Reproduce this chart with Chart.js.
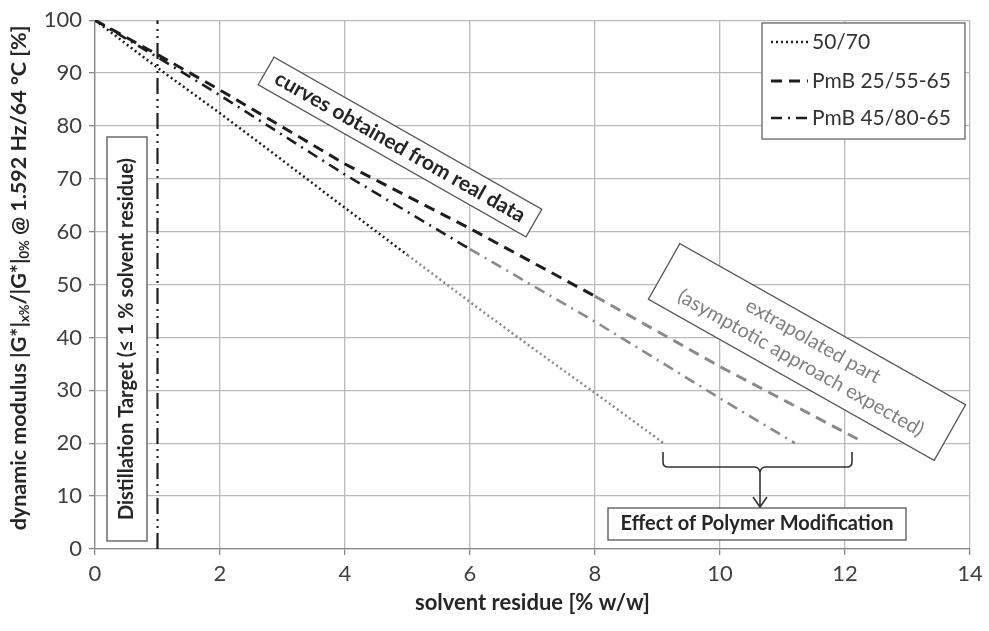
<!DOCTYPE html>
<html>
<head>
<meta charset="utf-8">
<script src="https://cdn.jsdelivr.net/npm/chart.js@4"></script>
<style>
  body { margin: 0; background: #fff; }
  #wrap { width: 989px; height: 631px; }
</style>
</head>
<body>
<div id="wrap"><canvas id="myChart" width="989" height="631"></canvas></div>
<script>
// solvent residue [% w/w] and modulus ratio [%]
let res5070Real = [0, 1, 2, 3, 4, 5];
let mod5070Real = [100, 91, 82.4, 73.5, 64.5, 55.6];
let res5070Extra = [5, 6, 7, 8, 9.1];
let mod5070Extra = [55.6, 46.7, 38, 29.5, 20];

let res2555Real = [0, 1, 2, 4, 6, 8];
let mod2555Real = [100, 93.5, 86.8, 72.8, 60.6, 47.8];
let res2555Extra = [8, 10, 12.2];
let mod2555Extra = [47.8, 34.5, 20.8];

let res4580Real = [0, 1, 2, 4, 6];
let mod4580Real = [100, 93, 85.8, 70.8, 56.7];
let res4580Extra = [6, 8, 10, 11.2];
let mod4580Extra = [56.7, 43, 28.5, 20];

let targetRes = [1, 1];
let targetMod = [0, 100];

let seriesNames = ['50/70', 'PmB 25/55-65', 'PmB 45/80-65'];
let xTicks = [0, 2, 4, 6, 8, 10, 12, 14];
let yTicks = [0, 10, 20, 30, 40, 50, 60, 70, 80, 90, 100];

let black = '#1e1e1e';
let grey = '#8a8a8a';
let dashes = [[2, 3], [11, 7], [11, 6, 2, 6]];
let widths = [2.5, 3, 2.6];
let fontFam = 'Lato, "Open Sans", sans-serif';

function pts(xs, ys) {
    return xs.map((x, i) => ({ x: x, y: ys[i] }));
}

function lineSet(label, xs, ys, color, k) {
    return {
        label: label,
        data: pts(xs, ys),
        showLine: true,
        borderColor: color,
        borderWidth: widths[k],
        borderDash: dashes[k],
        pointRadius: 0,
        fill: false,
        tension: 0
    };
}

function rotBox(ctx, cx, cy, w, h, deg, lines, font, color, lh) {
    ctx.save();
    ctx.translate(cx, cy);
    ctx.rotate(deg * Math.PI / 180);
    ctx.fillStyle = '#fff';
    ctx.fillRect(-w / 2, -h / 2, w, h);
    ctx.strokeStyle = '#555';
    ctx.lineWidth = 1.3;
    ctx.setLineDash([]);
    ctx.strokeRect(-w / 2, -h / 2, w, h);
    ctx.font = font;
    ctx.fillStyle = color;
    ctx.textAlign = 'center';
    ctx.textBaseline = 'middle';
    let y0 = -(lines.length - 1) * lh / 2;
    lines.forEach((t, i) => ctx.fillText(t, 0, y0 + i * lh));
    ctx.restore();
}

let extras = {
    id: 'extras',
    afterDatasetsDraw(chart) {
        let ctx = chart.ctx;
        let a = chart.chartArea;

        // text boxes
        rotBox(ctx, 127, 339, 404, 40, -90, ['Distillation Target (\u2264 1 % solvent residue)'],
            'bold 20px ' + fontFam, '#262626', 20);
        rotBox(ctx, 400, 147, 308, 32, 29.6, ['curves obtained from real data'],
            'bold 21px ' + fontFam, '#262626', 20);
        rotBox(ctx, 807, 352, 328, 64, 29.4, ['extrapolated part', '(asymptotic approach expected)'],
            '20px ' + fontFam, '#808080', 25);

        // brace + arrow
        ctx.save();
        ctx.strokeStyle = '#333';
        ctx.lineWidth = 1.6;
        ctx.setLineDash([]);
        ctx.beginPath();
        ctx.moveTo(663, 452);
        ctx.lineTo(663, 462);
        ctx.quadraticCurveTo(663, 467, 668, 467);
        ctx.lineTo(754, 467);
        ctx.quadraticCurveTo(759, 467, 760, 472);
        ctx.quadraticCurveTo(761, 467, 766, 467);
        ctx.lineTo(847, 467);
        ctx.quadraticCurveTo(852, 467, 852, 462);
        ctx.lineTo(852, 452);
        ctx.moveTo(760, 470);
        ctx.lineTo(760, 507);
        ctx.moveTo(753, 497);
        ctx.lineTo(760, 507);
        ctx.lineTo(767, 497);
        ctx.stroke();
        ctx.restore();
        rotBox(ctx, 757, 524, 298, 32, 0, ['Effect of Polymer Modification'],
            'bold 20px ' + fontFam, '#262626', 20);

        // legend
        ctx.save();
        ctx.fillStyle = '#fff';
        ctx.fillRect(762, 23, 203, 116);
        ctx.strokeStyle = '#666';
        ctx.lineWidth = 1.3;
        ctx.strokeRect(762, 23, 203, 116);
        let ly = [42, 81, 118];
        seriesNames.forEach((n, k) => {
            ctx.strokeStyle = black;
            ctx.lineWidth = widths[k];
            ctx.setLineDash(dashes[k]);
            ctx.beginPath();
            ctx.moveTo(771, ly[k]);
            ctx.lineTo(808, ly[k]);
            ctx.stroke();
            ctx.setLineDash([]);
            ctx.fillStyle = '#333';
            ctx.font = '21px ' + fontFam;
            ctx.textAlign = 'left';
            ctx.textBaseline = 'middle';
            ctx.fillText(n, 812, ly[k]);
        });
        ctx.restore();

        // axis titles
        ctx.save();
        ctx.fillStyle = '#262626';
        ctx.textBaseline = 'middle';
        ctx.textAlign = 'center';
        ctx.font = 'bold 22px ' + fontFam;
        ctx.fillText('solvent residue [% w/w]', (a.left + a.right) / 2, 603);

        ctx.translate(19, 278);
        ctx.rotate(-Math.PI / 2);
        let parts = [
            ['dynamic modulus |G*|', false], ['x%', true], ['/|G*|', false], ['0%', true],
            [' @ 1.592 Hz/64 \u00b0C [%]', false]
        ];
        let big = 'bold 21.5px ' + fontFam, small = 'bold 13px ' + fontFam;
        let total = 0;
        parts.forEach(p => { ctx.font = p[1] ? small : big; total += ctx.measureText(p[0]).width; });
        let x = -total / 2;
        ctx.textAlign = 'left';
        parts.forEach(p => {
            ctx.font = p[1] ? small : big;
            ctx.fillText(p[0], x, p[1] ? 6 : 0);
            x += ctx.measureText(p[0]).width;
        });
        ctx.restore();
    }
};

let ctx = document.getElementById('myChart').getContext('2d');
let myChart = new Chart(ctx, {
    type: 'scatter',
    data: {
        datasets: [
            lineSet(seriesNames[0], res5070Real, mod5070Real, black, 0),
            lineSet(seriesNames[0], res5070Extra, mod5070Extra, grey, 0),
            lineSet(seriesNames[1], res2555Real, mod2555Real, black, 1),
            lineSet(seriesNames[1], res2555Extra, mod2555Extra, grey, 1),
            lineSet(seriesNames[2], res4580Real, mod4580Real, black, 2),
            lineSet(seriesNames[2], res4580Extra, mod4580Extra, grey, 2),
            {
                label: 'target',
                data: pts(targetRes, targetMod),
                showLine: true,
                borderColor: black,
                borderWidth: 2.2,
                borderDash: [16, 5, 2, 5, 2, 5],
                pointRadius: 0
            }
        ]
    },
    options: {
        responsive: false,
        animation: false,
        layout: { padding: { left: 0, right: 19, top: 16, bottom: 0 } },
        plugins: { legend: { display: false }, tooltip: { enabled: false } },
        scales: {
            x: {
                type: 'linear',
                min: 0, max: 14,
                afterFit: s => { s.height = 82; },
                afterBuildTicks: s => { s.ticks = xTicks.map(v => ({ value: v })); },
                grid: { color: '#bababa', lineWidth: 1.3, tickLength: 6, tickColor: '#888' },
                border: { color: '#888', width: 1.3 },
                ticks: { color: '#404040', font: { family: fontFam, size: 22 }, padding: 6, maxRotation: 0 }
            },
            y: {
                type: 'linear',
                min: 0, max: 100,
                afterFit: s => { s.width = 95; },
                afterBuildTicks: s => { s.ticks = yTicks.map(v => ({ value: v })); },
                grid: { color: '#bababa', lineWidth: 1.3, tickLength: 6, tickColor: '#888' },
                border: { color: '#888', width: 1.3 },
                ticks: { color: '#404040', font: { family: fontFam, size: 22 }, padding: 7 }
            }
        }
    },
    plugins: [extras]
});
</script>
</body>
</html>
